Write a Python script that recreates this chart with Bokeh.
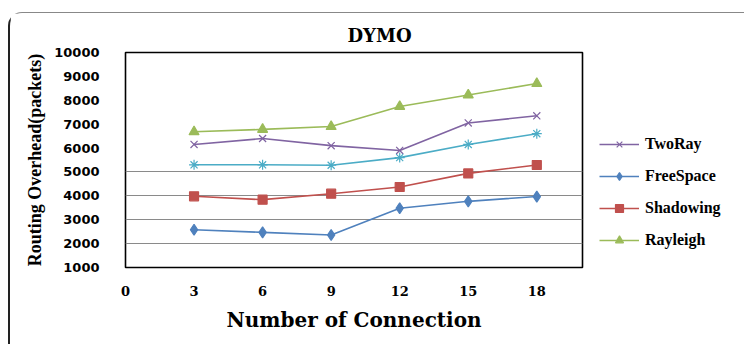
from bokeh.plotting import figure
from bokeh.models import FixedTicker, Range1d, Legend, LegendItem
from bokeh.embed import file_html
from bokeh.resources import INLINE

connections = [3, 6, 9, 12, 15, 18]
two_ray = [6150, 6400, 6100, 5900, 7050, 7350]
unnamed = [5300, 5300, 5280, 5600, 6150, 6600]
free_space = [2580, 2470, 2360, 3480, 3770, 3970]
shadowing = [3980, 3840, 4090, 4370, 4940, 5290]
rayleigh = [6680, 6780, 6900, 7740, 8220, 8700]

x_ticks = [0, 3, 6, 9, 12, 15, 18]
y_ticks = [1000, 2000, 3000, 4000, 5000, 6000, 7000, 8000, 9000, 10000]
grid_ticks = [2000, 3000, 4000, 5000]

p = figure(frame_width=457, frame_height=215, output_backend="svg",
           toolbar_location=None,
           x_range=Range1d(0, 20), y_range=Range1d(1000, 10000),
           min_border_left=115, min_border_right=10, min_border_top=39,
           min_border_bottom=77)

p.styles = {"border-top": "1px solid #888888", "border-left": "2px solid #222222",
            "border-top-left-radius": "14px", "margin-left": "8px",
            "margin-top": "12px"}

p.title.text = "DYMO"
p.title.align = "left"
p.title.offset = 222
p.title.standoff = 14
p.title.text_font = "DejaVu Serif"
p.title.text_font_style = "bold"
p.title.text_font_size = "18px"
p.title.text_color = "black"

p.outline_line_color = "black"
p.outline_line_width = 1.6
p.background_fill_color = "white"
p.border_fill_color = "white"

p.xgrid.visible = False
p.ygrid.ticker = FixedTicker(ticks=grid_ticks)
p.ygrid.grid_line_color = "#8a8a8a"
p.ygrid.grid_line_width = 1

p.xaxis.ticker = FixedTicker(ticks=x_ticks)
p.yaxis.ticker = FixedTicker(ticks=y_ticks)
for ax in (p.xaxis[0], p.yaxis[0]):
    ax.axis_line_color = None
    ax.major_tick_line_color = None
    ax.minor_tick_line_color = None
    ax.major_label_text_color = "black"
    ax.axis_label_text_color = "black"
    ax.axis_label_text_font_style = "bold"

p.xaxis.major_label_text_font = "DejaVu Serif"
p.xaxis.major_label_text_font_style = "bold"
p.xaxis.major_label_text_font_size = "13px"
p.xaxis.major_label_standoff = 12
p.xaxis.axis_label = "Number of Connection"
p.xaxis.axis_label_text_font = "DejaVu Serif"
p.xaxis.axis_label_text_font_size = "20px"
p.xaxis.axis_label_standoff = 9

p.yaxis.major_label_text_font = "DejaVu Sans"
p.yaxis.major_label_text_font_style = "bold"
p.yaxis.major_label_text_font_size = "13px"
p.yaxis.major_label_standoff = 20
p.yaxis.axis_label = "Routing Overhead(packets)"
p.yaxis.axis_label_text_font = "Liberation Serif"
p.yaxis.axis_label_text_font_size = "18px"
p.yaxis.axis_label_standoff = 6

series = [
    ("TwoRay", two_ray, "#8064A2", "x", 10),
    (None, unnamed, "#4BACC6", "asterisk", 10),
    ("FreeSpace", free_space, "#4F81BD", "diamond", 11),
    ("Shadowing", shadowing, "#C0504D", "square", 9),
    ("Rayleigh", rayleigh, "#9BBB59", "triangle", 10),
]

items = []
for name, vals, color, marker, size in series:
    ln = p.line(connections, vals, line_color=color, line_width=1.6)
    sc = p.scatter(connections, vals, marker=marker, size=size,
                   fill_color=color, line_color=color, line_width=1.2)
    if name:
        items.append(LegendItem(label=name, renderers=[ln, sc]))

legend = Legend(items=items, location="bottom_left", padding=0, margin=17,
                spacing=12, label_height=20, glyph_height=20, glyph_width=40,
                label_standoff=6, background_fill_alpha=0,
                border_line_color=None,
                label_text_font="Liberation Serif", label_text_font_style="bold",
                label_text_font_size="16px", label_text_color="black")
p.add_layout(legend, "right")

open("out.html", "w").write(file_html(p, INLINE))
